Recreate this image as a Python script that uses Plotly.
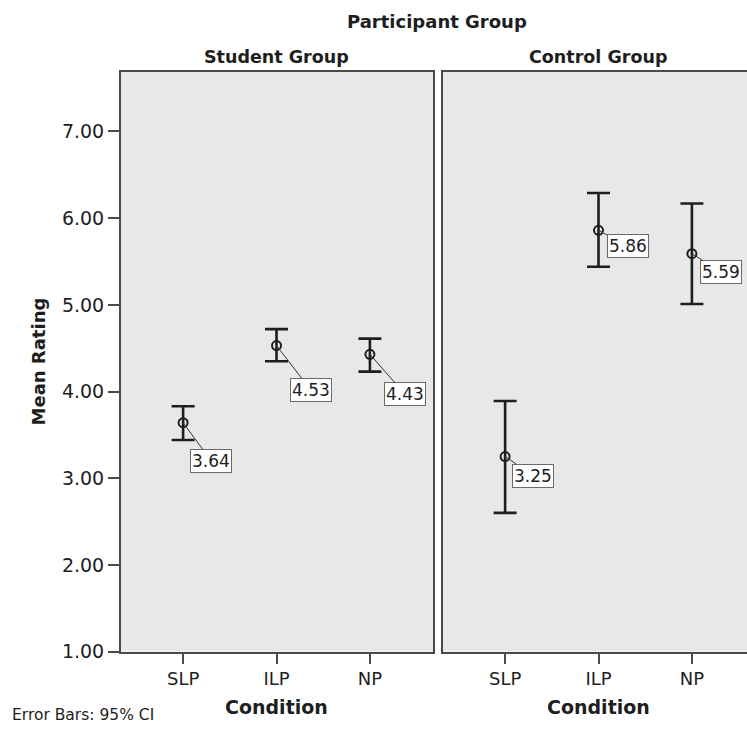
import plotly.graph_objects as go

# Mean ratings with 95% confidence intervals, by condition and participant group
conditions = ["SLP", "ILP", "NP"]
groups = ["Student Group", "Control Group"]

student_mean = [3.64, 4.53, 4.43]
student_upper = [3.83, 4.72, 4.61]
student_lower = [3.44, 4.35, 4.23]

control_mean = [3.25, 5.86, 5.59]
control_upper = [3.89, 6.29, 6.17]
control_lower = [2.60, 5.44, 5.01]

y_ticks = [1, 2, 3, 4, 5, 6, 7]

W, H = 747, 733
FONT = "DejaVu Sans"
INK = "#1e1e1e"
FRAME = "#4a4a4a"
PANEL = "#e8e8e8"


def px_x(p):
    return p / W


def px_y(p):
    return (H - p) / H


fig = go.Figure()

xpos = list(range(len(conditions)))
panels = [
    ("x", "y", student_mean, student_upper, student_lower),
    ("x2", "y2", control_mean, control_upper, control_lower),
]

for xa, ya, mean, up, lo in panels:
    fig.add_trace(go.Scatter(
        x=xpos, y=mean, xaxis=xa, yaxis=ya, mode="markers",
        marker=dict(symbol="circle-open", size=9, color=INK,
                    line=dict(width=2, color=INK)),
        error_y=dict(type="data", symmetric=False,
                     array=[u - m for u, m in zip(up, mean)],
                     arrayminus=[m - l for m, l in zip(mean, lo)],
                     thickness=2.6, width=11.5, color=INK),
        showlegend=False, hoverinfo="skip",
    ))

# value labels: boxed, offset to the lower right with a thin leader line
offsets = {
    "x": [(28, 38), (34, 44), (35, 40)],
    "x2": [(28, 19), (29, 16), (29, 18)],
}
annotations = []
for xa, ya, mean, up, lo in panels:
    for i, m in enumerate(mean):
        ax, ay = offsets[xa][i]
        annotations.append(dict(
            x=xpos[i], y=m, xref=xa, yref=ya, text=f"{m:.2f}",
            showarrow=True, arrowhead=0, arrowwidth=1, arrowcolor="#333333",
            ax=ax, ay=ay, standoff=0, startstandoff=0,
            bgcolor="white", bordercolor="#6a6a6a", borderwidth=1, borderpad=1,
            font=dict(family=FONT, size=17, color=INK),
        ))


def label(text, x, y, size, **kw):
    d = dict(text=text, x=px_x(x), y=px_y(y), xref="paper", yref="paper",
             showarrow=False, xanchor="center", yanchor="middle",
             font=dict(family=FONT, size=size, color=INK))
    d.update(kw)
    return d


# titles and notes
annotations += [
    label("<b>Participant Group</b>", 437, 22, 18),
    label("<b>Student Group</b>", 276, 58, 17.5),
    label("<b>Control Group</b>", 598, 58, 17.5),
    label("<b>Condition</b>", 276, 718, 19),
    label("<b>Condition</b>", 598, 718, 19),
    label("<b>Mean Rating</b>", 38, 367, 18, textangle=-90),
    label("Error Bars: 95% CI", 10, 726, 15.5, xanchor="left"),
]

px_per_cat = 93.4
x_left = -0.665
left_range = [x_left, x_left + 312 / px_per_cat]
right_range = [x_left, x_left + 304 / px_per_cat]
y_range = [1.0, 1.0 + (661.5 - 73) / 88.0]
y_dom = [px_y(661.5), px_y(73)]

xaxis_common = dict(
    tickvals=xpos, ticktext=conditions, ticks="outside", ticklen=10,
    tickwidth=1.5, tickcolor=FRAME, showgrid=False, zeroline=False,
    showline=True, linecolor=FRAME, linewidth=2, mirror=True,
    tickfont=dict(family=FONT, size=18, color=INK), fixedrange=True,
)

fig.update_layout(
    width=W, height=H,
    margin=dict(l=0, r=0, t=0, b=0),
    paper_bgcolor="white", plot_bgcolor=PANEL,
    xaxis=dict(domain=[px_x(121), px_x(433)], range=left_range,
               anchor="y", **xaxis_common),
    xaxis2=dict(domain=[px_x(443), 1.0], range=right_range,
                anchor="y2", **xaxis_common),
    yaxis=dict(domain=y_dom, range=y_range, anchor="x",
               tickvals=y_ticks, ticktext=[f"{v:.2f}" for v in y_ticks],
               ticks="outside", ticklen=11, tickwidth=1.5, tickcolor=FRAME,
               showgrid=False, zeroline=False, showline=True,
               linecolor=FRAME, linewidth=2, mirror=True,
               tickfont=dict(family=FONT, size=19, color=INK)),
    yaxis2=dict(domain=y_dom, range=y_range, anchor="x2",
                showticklabels=False, ticks="", showgrid=False,
                zeroline=False, showline=True, linecolor=FRAME,
                linewidth=2, mirror=False),
    annotations=annotations,
)

fig.write_html("out.html")
